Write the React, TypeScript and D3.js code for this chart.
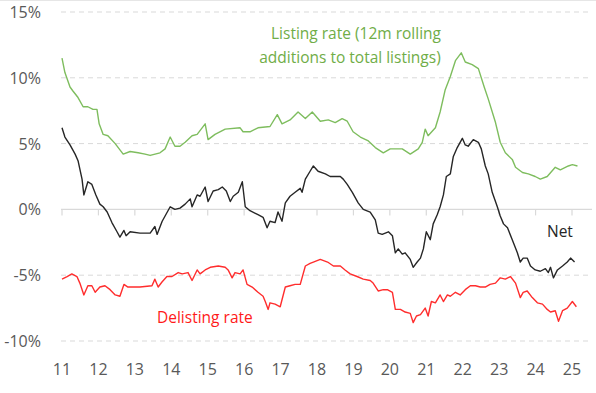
import React from "react"
import * as d3 from "d3"

// [year (2-digit, decimal), percent]
const listing: [number, number][] = [
  [11.0, 11.5], [11.08, 10.4], [11.22, 9.3], [11.3, 9.0], [11.44, 8.5], [11.58, 7.8],
  [11.71, 7.8], [11.85, 7.6], [11.96, 7.6], [12.02, 6.5], [12.13, 5.7], [12.26, 5.6],
  [12.46, 5.0], [12.68, 4.2], [12.87, 4.4], [13.09, 4.3], [13.28, 4.2], [13.42, 4.1],
  [13.69, 4.3], [13.83, 4.6], [13.97, 5.5], [14.1, 4.8], [14.24, 4.8], [14.38, 5.1],
  [14.57, 5.6], [14.71, 5.7], [14.93, 6.5], [15.01, 5.3], [15.2, 5.7], [15.48, 6.1],
  [15.89, 6.2], [15.97, 5.9], [16.16, 5.9], [16.38, 6.2], [16.71, 6.3], [16.91, 7.2],
  [17.04, 6.5], [17.26, 6.8], [17.48, 7.4], [17.68, 6.9], [17.87, 7.4], [18.09, 6.7],
  [18.31, 6.8], [18.5, 6.6], [18.69, 6.9], [18.83, 6.7], [18.99, 5.9], [19.19, 5.5],
  [19.41, 5.2], [19.6, 4.7], [19.82, 4.3], [20.01, 4.6], [20.2, 4.6], [20.34, 4.6],
  [20.56, 4.2], [20.78, 4.6], [20.89, 5.1], [20.97, 6.1], [21.05, 5.6], [21.25, 6.2],
  [21.38, 7.4], [21.52, 9.1], [21.66, 10.1], [21.8, 11.3], [21.96, 11.9], [22.07, 11.2],
  [22.26, 11.0], [22.43, 10.7], [22.59, 9.3], [22.7, 8.4], [22.9, 6.6], [23.03, 5.1],
  [23.17, 4.3], [23.36, 3.8], [23.45, 3.2], [23.64, 2.8], [23.8, 2.7], [23.99, 2.5],
  [24.13, 2.3], [24.32, 2.5], [24.54, 3.2], [24.68, 3.0], [24.9, 3.3], [25.01, 3.4],
  [25.15, 3.3],
]

const net: [number, number][] = [
  [11.0, 6.2], [11.08, 5.5], [11.22, 4.9], [11.36, 4.2], [11.44, 3.7], [11.55, 2.3],
  [11.6, 1.1], [11.71, 2.1], [11.82, 1.9], [11.93, 1.1], [12.04, 0.4], [12.13, 0.2],
  [12.24, -0.2], [12.37, -1.0], [12.51, -1.7], [12.59, -2.1], [12.7, -1.6], [12.76, -2.0],
  [12.87, -1.7], [13.14, -1.8], [13.42, -1.8], [13.55, -1.3], [13.61, -1.9], [13.75, -0.9],
  [13.83, -0.5], [13.97, 0.2], [14.1, 0.0], [14.24, 0.1], [14.38, 0.4], [14.52, 0.8],
  [14.57, 0.2], [14.71, 1.1], [14.79, 1.0], [14.93, 1.7], [15.01, 0.6], [15.15, 1.4],
  [15.29, 1.5], [15.4, 1.7], [15.51, 1.4], [15.62, 0.6], [15.7, 1.0], [15.84, 1.3],
  [15.95, 2.1], [16.03, 0.2], [16.16, -0.1], [16.38, -0.4], [16.52, -0.6], [16.63, -1.4],
  [16.71, -0.9], [16.85, -1.0], [16.93, -0.2], [17.04, -0.9], [17.13, 0.5], [17.26, 1.0],
  [17.4, 1.3], [17.54, 1.6], [17.59, 1.3], [17.68, 2.3], [17.81, 2.9], [17.9, 3.3],
  [18.03, 2.9], [18.23, 2.7], [18.36, 2.5], [18.55, 2.5], [18.64, 2.5], [18.72, 2.3],
  [18.83, 1.9], [18.97, 1.3], [19.13, 0.5], [19.27, 0.0], [19.46, -0.2], [19.6, -0.8],
  [19.68, -1.8], [19.79, -1.9], [19.96, -1.7], [20.07, -2.0], [20.15, -3.3], [20.23, -3.0],
  [20.34, -3.4], [20.42, -3.3], [20.56, -3.8], [20.64, -4.4], [20.75, -4.0], [20.84, -3.7],
  [20.92, -3.0], [21.0, -1.7], [21.11, -2.3], [21.19, -1.1], [21.3, -0.4], [21.38, 0.2],
  [21.47, 1.1], [21.55, 2.5], [21.66, 2.7], [21.74, 4.0], [21.85, 4.7], [21.99, 5.4],
  [22.07, 4.9], [22.15, 4.8], [22.29, 5.3], [22.43, 5.1], [22.51, 4.6], [22.62, 3.3],
  [22.7, 2.7], [22.81, 1.3], [22.95, 0.2], [23.03, -0.5], [23.12, -1.1], [23.23, -1.4],
  [23.36, -2.3], [23.5, -3.3], [23.58, -4.0], [23.66, -3.7], [23.77, -3.7], [23.86, -4.3],
  [23.99, -4.6], [24.13, -4.7], [24.27, -4.5], [24.35, -4.8], [24.41, -4.4], [24.49, -5.2],
  [24.6, -4.6], [24.74, -4.3], [24.87, -4.0], [24.96, -3.7], [25.07, -4.0],
]

const delisting: [number, number][] = [
  [11.0, -5.3], [11.14, -5.1], [11.27, -4.9], [11.41, -5.1], [11.49, -5.6], [11.6, -6.5],
  [11.71, -5.8], [11.82, -5.8], [11.91, -6.3], [12.04, -5.9], [12.18, -5.8], [12.32, -6.1],
  [12.46, -6.5], [12.59, -6.6], [12.7, -5.7], [12.81, -5.9], [13.14, -5.9], [13.47, -5.8],
  [13.55, -5.3], [13.64, -5.9], [13.75, -5.5], [13.88, -5.1], [14.02, -5.1], [14.19, -4.8],
  [14.3, -4.9], [14.46, -4.8], [14.57, -5.4], [14.71, -4.6], [14.79, -4.9], [14.93, -4.6],
  [15.07, -4.4], [15.29, -4.3], [15.48, -4.4], [15.56, -4.6], [15.67, -5.2], [15.75, -4.8],
  [15.89, -4.9], [15.97, -4.6], [16.08, -5.7], [16.22, -5.9], [16.38, -6.3], [16.52, -6.6],
  [16.58, -7.0], [16.66, -7.6], [16.71, -7.1], [16.85, -7.2], [16.99, -7.4], [17.13, -5.9],
  [17.26, -5.8], [17.4, -5.7], [17.54, -5.7], [17.68, -4.3], [17.81, -4.1], [17.9, -4.0],
  [18.09, -3.8], [18.29, -4.0], [18.45, -4.3], [18.64, -4.3], [18.77, -4.6], [18.91, -4.9],
  [19.1, -5.1], [19.27, -5.3], [19.46, -5.4], [19.54, -5.6], [19.68, -6.2], [19.82, -6.1],
  [19.93, -6.1], [20.07, -6.3], [20.15, -7.6], [20.29, -7.6], [20.42, -7.8], [20.56, -7.9],
  [20.64, -8.6], [20.73, -8.1], [20.84, -8.0], [20.97, -7.5], [21.05, -8.1], [21.14, -7.0],
  [21.25, -7.1], [21.38, -6.5], [21.47, -7.0], [21.58, -6.5], [21.66, -6.6], [21.8, -6.3],
  [21.93, -6.5], [22.07, -6.1], [22.21, -5.8], [22.35, -5.8], [22.48, -5.9], [22.62, -5.9],
  [22.75, -5.7], [22.9, -5.6], [23.03, -5.2], [23.17, -5.3], [23.31, -5.1], [23.45, -5.6],
  [23.58, -6.7], [23.66, -6.3], [23.77, -6.2], [23.91, -6.7], [24.05, -7.1], [24.19, -7.2],
  [24.32, -7.6], [24.41, -7.8], [24.54, -7.7], [24.63, -8.5], [24.74, -7.7], [24.87, -7.5],
  [25.01, -7.0], [25.12, -7.4],
]

const yTicks = [15, 10, 5, 0, -5, -10]
const xTicks = [11, 12, 13, 14, 15, 16, 17, 18, 19, 20, 21, 22, 23, 24, 25]

const W = 596
const H = 393
const font = "'Open Sans', 'Noto Sans', sans-serif"

export default function App() {
  const x = d3.scaleLinear().domain([11, 25]).range([62, 572])
  const y = d3.scaleLinear().domain([-10, 15]).range([341, 12])
  const line = d3
    .line<[number, number]>()
    .x((d) => x(d[0]))
    .y((d) => y(d[1]))

  const right = 592

  return (
    <svg
      width={W}
      height={H}
      style={{ position: "absolute", left: 0, top: 0, background: "#fff" }}
      fontFamily={font}
    >
      <line x1={0} x2={W} y1={0.5} y2={0.5} stroke="#e6e6e6" />
      {yTicks
        .filter((t) => t !== 0)
        .map((t) => (
          <line
            key={t}
            x1={x(11) - 1}
            x2={right}
            y1={y(t)}
            y2={y(t)}
            stroke="#d9d9d9"
            strokeWidth={1}
            strokeDasharray="5,4"
          />
        ))}
      <line x1={x(11) - 1} x2={right} y1={y(0)} y2={y(0)} stroke="#d9d9d9" strokeWidth={1.2} />
      {xTicks.map((t) => (
        <line key={t} x1={x(t)} x2={x(t)} y1={y(0)} y2={y(0) + 6} stroke="#d9d9d9" strokeWidth={1.2} />
      ))}
      {yTicks.map((t) => (
        <text key={t} x={41} y={y(t) + 6} textAnchor="end" fontSize={16} fill="#595959">
          {t}%
        </text>
      ))}
      {xTicks.map((t) => (
        <text key={t} x={x(t)} y={375} textAnchor="middle" fontSize={16} fill="#595959">
          {t}
        </text>
      ))}
      <path d={line(listing) ?? ""} fill="none" stroke="#7ebd5e" strokeWidth={1.4} strokeLinejoin="round" />
      <path d={line(delisting) ?? ""} fill="none" stroke="#ff2d2d" strokeWidth={1.4} strokeLinejoin="round" />
      <path d={line(net) ?? ""} fill="none" stroke="#262626" strokeWidth={1.4} strokeLinejoin="round" />
      <text x={356} y={39} textAnchor="middle" fontSize={15.5} fill="#70ad47">
        Listing rate (12m rolling
      </text>
      <text x={350} y={63} textAnchor="middle" fontSize={15.5} fill="#70ad47">
        additions to total listings)
      </text>
      <text x={547} y={237} fontSize={15.5} fill="#262626">
        Net
      </text>
      <text x={157} y={323} fontSize={15.5} fill="#ff1a1a">
        Delisting rate
      </text>
    </svg>
  )
}
